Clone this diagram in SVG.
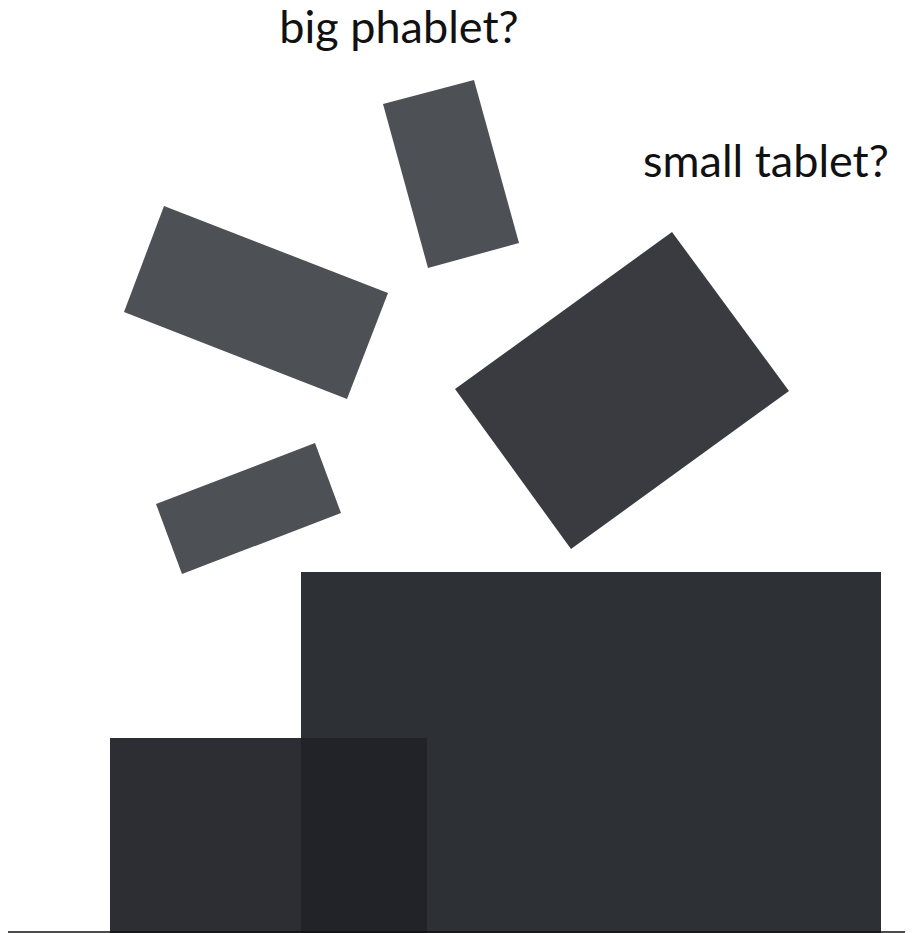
<svg xmlns="http://www.w3.org/2000/svg" width="915" height="933" viewBox="0 0 915 933">
<style>
.lbl{font-family:Lato,"Open Sans","Liberation Sans",sans-serif;font-size:45px;fill:#111}
.phone{fill:#4d5055}
.tablet{fill:#393b40}
.box{fill:#2d3034}
</style>
<rect width="915" height="933" fill="#fff"/>
<g id="label-phablet"><text class="lbl" x="399" y="43" text-anchor="middle">big phablet?</text></g>
<g id="label-tablet"><text class="lbl" x="766" y="177" text-anchor="middle">small tablet?</text></g>
<g id="phone-top"><polygon class="phone" points="383,104 474,80 519,243 428,268"/></g>
<g id="phone-left"><polygon class="phone" points="164,206 388,293 347,399 124,312"/></g>
<g id="phone-small"><polygon class="phone" points="156,504 315,443 341,513 182,574"/></g>
<g id="tablet"><polygon class="tablet" points="455,389 672,232 789,391 571,549"/></g>
<g id="box-large"><rect class="box" x="301" y="572" width="580" height="361"/></g>
<g id="box-small"><rect x="110" y="738" width="317" height="195" fill="#212329" fill-opacity="0.95"/></g>
<g id="connectors"><line x1="8" y1="932" x2="905" y2="932" stroke="#111" stroke-width="1.5"/></g>
</svg>
